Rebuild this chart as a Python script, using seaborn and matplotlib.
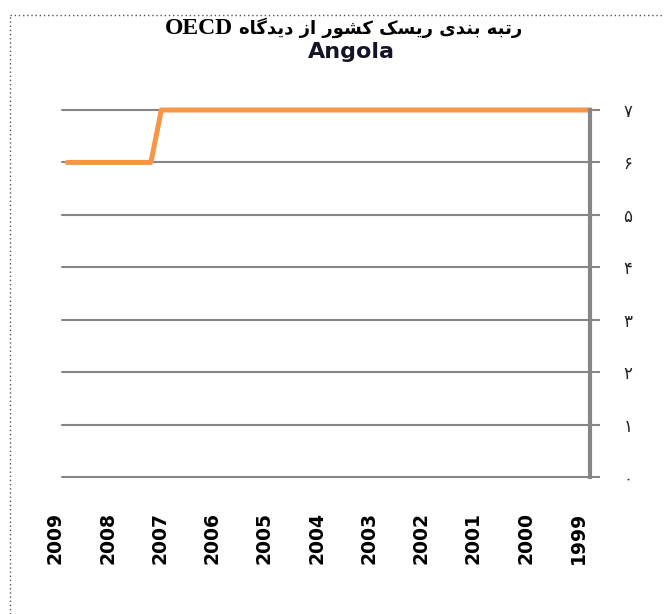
import numpy as np
import pandas as pd
import seaborn as sns
import matplotlib
matplotlib.use("Agg")
import matplotlib.pyplot as plt
import matplotlib.transforms as mtransforms
from matplotlib.lines import Line2D

# --- data ---
years = [2009.0, 2007.4, 2007.2, 1999.0]   # where the line changes direction
rating = [6, 6, 7, 7]                        # OECD country risk rating
year_ticks = list(range(2009, 1998, -1))
rating_ticks = list(range(0, 8))
rating_labels = ["۰", "۱", "۲", "۳", "۴", "۵", "۶", "۷"]
title_fa = "رتبه بندی ریسک کشور از دیدگاه"
title_latin = "OECD"
subtitle = "Angola"

# --- tiny Persian shaper (matplotlib 3.10 has no bidi / contextual shaping) ---
# letter: (isolated, final, initial, medial); 2-tuple means right-joining only
FORMS = {
    "ا": ("\uFE8D", "\uFE8E"),
    "د": ("\uFEA9", "\uFEAA"),
    "ر": ("\uFEAD", "\uFEAE"),
    "ز": ("\uFEAF", "\uFEB0"),
    "و": ("\uFEED", "\uFEEE"),
    "ب": ("\uFE8F", "\uFE90", "\uFE91", "\uFE92"),
    "ت": ("\uFE95", "\uFE96", "\uFE97", "\uFE98"),
    "س": ("\uFEB1", "\uFEB2", "\uFEB3", "\uFEB4"),
    "ش": ("\uFEB5", "\uFEB6", "\uFEB7", "\uFEB8"),
    "ن": ("\uFEE5", "\uFEE6", "\uFEE7", "\uFEE8"),
    "ه": ("\uFEE9", "\uFEEA", "\uFEEB", "\uFEEC"),
    "ی": ("\uFBFC", "\uFBFD", "\uFBFE", "\uFBFF"),
    "ک": ("\uFB8E", "\uFB8F", "\uFB90", "\uFB91"),
    "گ": ("\uFB92", "\uFB93", "\uFB94", "\uFB95"),
}


def shape_word(w):
    out = []
    for i, ch in enumerate(w):
        f = FORMS[ch]
        prev = i > 0 and len(FORMS[w[i - 1]]) == 4
        nxt = len(f) == 4 and i < len(w) - 1
        if prev and nxt:
            out.append(f[3])
        elif prev:
            out.append(f[1])
        elif nxt:
            out.append(f[2])
        else:
            out.append(f[0])
    return "".join(out)


def visual(text):
    shaped = " ".join(shape_word(w) for w in text.split(" "))
    return shaped[::-1]


df = pd.DataFrame({"year": years, "rating": rating})

sns.set_style("white")
fig = plt.figure(figsize=(6.65, 6.14), dpi=100)
W, H = 665, 614
ax = fig.add_axes([62 / W, 1 - 477 / H, (590 - 62) / W, (477 - 110) / H])

grid_col = "#868686"
for v in rating_ticks:
    ax.axhline(v, color=grid_col, lw=1.5, zorder=1, clip_on=False)

sns.lineplot(data=df, x="year", y="rating", ax=ax, color="#F79646",
             lw=3.6, solid_capstyle="round", zorder=3, sort=False)
for ln in ax.lines:
    ln.set_clip_on(False)

ax.set_xlim(2009.1, 1999)
ax.set_ylim(0, 7)
ax.set_xlabel("")
ax.set_ylabel("")

for s in ["left", "top", "bottom"]:
    ax.spines[s].set_visible(False)
ax.spines["right"].set_color(grid_col)
ax.spines["right"].set_linewidth(3)
ax.spines["right"].set_zorder(4)

ax.yaxis.tick_right()
ax.set_yticks(rating_ticks)
ax.set_yticklabels(rating_labels, fontsize=12, color="#222222",
                   family="DejaVu Sans")
ax.tick_params(axis="y", direction="out", length=7, width=1.5,
               color=grid_col, pad=17, right=True)

ax.set_xticks(year_ticks)
ax.set_xticklabels([str(y) for y in year_ticks], rotation=90,
                   fontsize=13.5, fontweight="bold", color="black",
                   family="DejaVu Sans")
ax.tick_params(axis="x", length=0, pad=25)
shift = mtransforms.ScaledTranslation(-12 / 100, 0, fig.dpi_scale_trans)
for lab in ax.get_xticklabels():
    lab.set_transform(lab.get_transform() + shift)

# titles: Latin part in a Times-like bold face, Persian part after it
fig.text(233 / W, 1 - 34 / H, title_latin, ha="right", va="baseline",
         fontsize=17, fontweight="bold", family="Liberation Serif",
         color="black")
fig.text(239 / W, 1 - 34 / H, visual(title_fa), ha="left", va="baseline",
         fontsize=13, fontweight="bold", family="DejaVu Sans", color="black")
fig.text(351 / W, 1 - 58 / H, subtitle, ha="center", va="baseline",
         fontsize=16, fontweight="bold", family="DejaVu Sans",
         color="#141428")

# dotted frame (left and top)
fig.add_artist(Line2D([10 / W, 10 / W], [0, 1 - 15 / H], transform=fig.transFigure,
                      color="#555555", lw=1, ls=(0, (1, 2))))
fig.add_artist(Line2D([10 / W, 663 / W], [1 - 15 / H, 1 - 15 / H],
                      transform=fig.transFigure, color="#555555", lw=1,
                      ls=(0, (1, 2))))

fig.savefig("out.png", dpi=100)
